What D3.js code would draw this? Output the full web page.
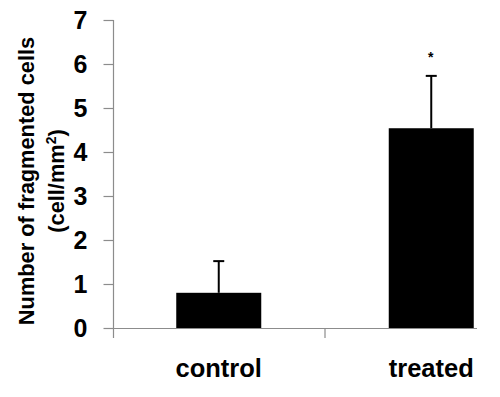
<!DOCTYPE html>
<html>
<head>
<meta charset="utf-8">
<script src="https://cdn.jsdelivr.net/npm/d3@7"></script>
<style>
  body { margin: 0; background: #fff; }
  text { font-family: "Liberation Sans", Arial, sans-serif; }
</style>
</head>
<body>
<div id="chart"></div>
<script>
// chart data
var groups = ["control", "treated"];
var means = [0.8, 4.54];
var errors = [0.72, 1.19];
var marks = ["", "*"];
var yTicks = [0, 1, 2, 3, 4, 5, 6, 7];

var width = 500, height = 397;
var axisColor = "#8c8c8c";

var svg = d3.select("#chart").append("svg")
    .attr("width", width)
    .attr("height", height);

var y = d3.scaleLinear()
    .domain([0, 7])
    .range([328, 20]);

var x = d3.scaleBand()
    .domain(groups)
    .range([112.5, 537.5])
    .paddingInner(0.6)
    .paddingOuter(0.3);

// y axis
var yAxis = d3.axisLeft(y)
    .tickValues(yTicks)
    .tickSize(10)
    .tickPadding(16)
    .tickFormat(d3.format("d"));

var gy = svg.append("g")
    .attr("transform", "translate(113.5,0)")
    .call(yAxis);
gy.select(".domain").remove();
gy.selectAll(".tick line").attr("stroke", axisColor).attr("stroke-width", 1.2);
gy.selectAll(".tick text")
    .attr("font-size", 25)
    .attr("font-weight", "bold")
    .attr("fill", "#000")
    .style("font-family", "'Liberation Sans', Arial, sans-serif");

gy.append("line")
    .attr("x1", 0).attr("x2", 0)
    .attr("y1", y(7)).attr("y2", y(0) + 10)
    .attr("stroke", axisColor)
    .attr("stroke-width", 1.2);

// x axis
var gx = svg.append("g");
gx.append("line")
    .attr("x1", 113).attr("x2", 477)
    .attr("y1", y(0) + 0.5).attr("y2", y(0) + 0.5)
    .attr("stroke", axisColor)
    .attr("stroke-width", 1.2);

gx.selectAll(".xtick")
    .data(groups.slice(1))
    .enter().append("line")
    .attr("class", "xtick")
    .attr("x1", function (d) { return x(d) - x.step() * x.paddingInner() / 2; })
    .attr("x2", function (d) { return x(d) - x.step() * x.paddingInner() / 2; })
    .attr("y1", y(0))
    .attr("y2", y(0) + 10)
    .attr("stroke", axisColor)
    .attr("stroke-width", 1.2);

gx.selectAll(".xlabel")
    .data(groups)
    .enter().append("text")
    .attr("class", "xlabel")
    .attr("x", function (d) { return x(d) + x.bandwidth() / 2; })
    .attr("y", 377)
    .attr("text-anchor", "middle")
    .attr("font-size", 25.5)
    .attr("font-weight", "bold")
    .text(function (d) { return d; });

// bars
svg.selectAll(".bar")
    .data(groups)
    .enter().append("rect")
    .attr("class", "bar")
    .attr("x", function (d) { return x(d); })
    .attr("y", function (d, i) { return y(means[i]); })
    .attr("width", x.bandwidth())
    .attr("height", function (d, i) { return y(0) - y(means[i]); })
    .attr("fill", "#000");

// error bars (upper only)
var err = svg.selectAll(".err")
    .data(groups)
    .enter().append("g")
    .attr("class", "err");

err.append("line")
    .attr("x1", function (d) { return x(d) + x.bandwidth() / 2; })
    .attr("x2", function (d) { return x(d) + x.bandwidth() / 2; })
    .attr("y1", function (d, i) { return y(means[i]); })
    .attr("y2", function (d, i) { return y(means[i] + errors[i]); })
    .attr("stroke", "#000")
    .attr("stroke-width", 2);

err.append("line")
    .attr("x1", function (d) { return x(d) + x.bandwidth() / 2 - 5.5; })
    .attr("x2", function (d) { return x(d) + x.bandwidth() / 2 + 5.5; })
    .attr("y1", function (d, i) { return y(means[i] + errors[i]); })
    .attr("y2", function (d, i) { return y(means[i] + errors[i]); })
    .attr("stroke", "#000")
    .attr("stroke-width", 2);

// significance marks
svg.selectAll(".mark")
    .data(groups)
    .enter().append("text")
    .attr("class", "mark")
    .attr("x", function (d) { return x(d) + x.bandwidth() / 2 - 0.5; })
    .attr("y", 62)
    .attr("text-anchor", "middle")
    .attr("font-size", 14)
    .attr("font-weight", "bold")
    .text(function (d, i) { return marks[i]; });

// y axis title
var title = svg.append("text")
    .attr("transform", "translate(33.5,181) rotate(-90)")
    .attr("text-anchor", "middle")
    .attr("font-size", 21.8)
    .attr("font-weight", "bold");

title.append("tspan")
    .attr("x", 0).attr("y", 0)
    .text("Number of fragmented cells");

var line2 = title.append("tspan")
    .attr("x", 0).attr("y", 30)
    .text("(cell/mm");
line2.append("tspan")
    .attr("font-size", 14)
    .attr("dy", -8)
    .text("2");
title.append("tspan")
    .attr("dy", 8)
    .text(")");
</script>
</body>
</html>
